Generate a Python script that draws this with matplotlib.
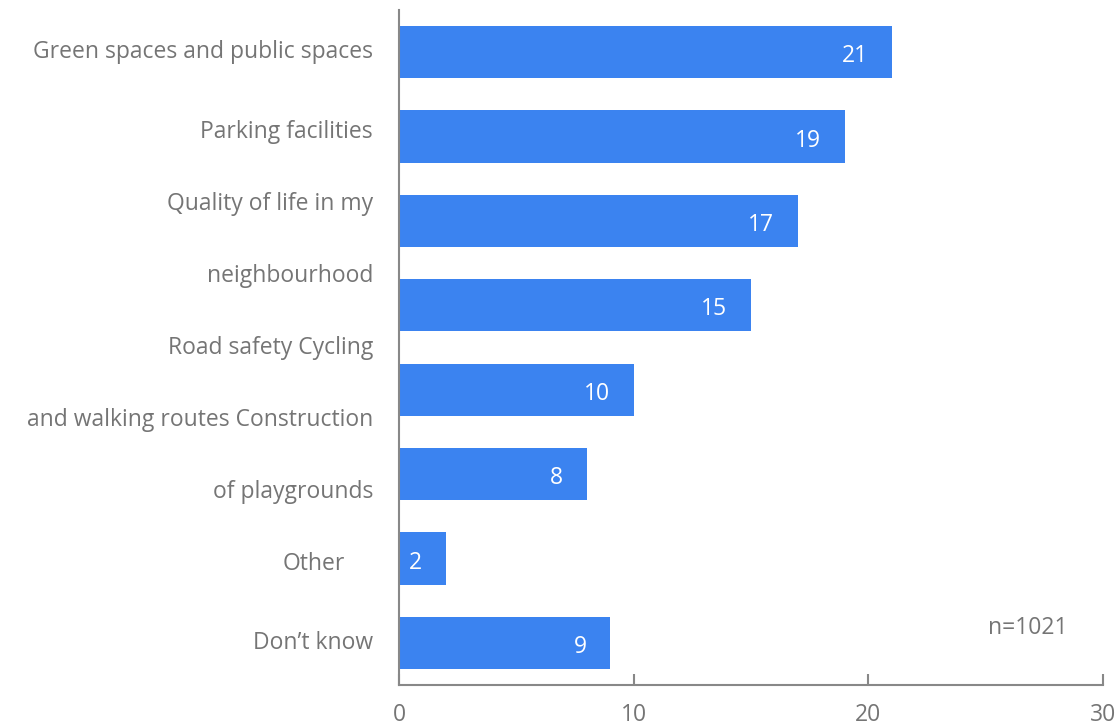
import matplotlib.pyplot as plt
import numpy as np

plt.rcParams['font.family'] = ['Open Sans', 'DejaVu Sans']

# survey results, one bar per answer (top to bottom)
values = [21, 19, 17, 15, 10, 8, 2, 9]
# category text as it is laid out next to the axis, one entry per line
label_lines = ['Green spaces and public spaces', 'Parking facilities',
               'Quality of life in my', 'neighbourhood', 'Road safety Cycling',
               'and walking routes Construction', 'of playgrounds', 'Other',
               'Don\u2019t know']
x_ticks = [0, 10, 20, 30]
note = 'n=1021'

bar_color = '#3b83f0'
grey = '#757575'
fs = 16.5

fig = plt.figure(figsize=(11.16, 7.25), dpi=100)
ax = fig.add_axes([0.3575, 0.0552, 0.631, 0.931])

pos = np.arange(len(values))
ax.barh(pos, values, height=0.62, color=bar_color, zorder=2)

for p, v in zip(pos, values):
    ax.annotate(str(v), (v, p), xytext=(-17, -3), textcoords='offset points',
                ha='right', va='center', color='white', fontsize=fs)

ax.set_xlim(0, 30)
ax.set_ylim(len(values) - 0.5, -0.5)
ax.set_xticks(x_ticks)
ax.set_xticklabels([str(t) for t in x_ticks], fontsize=fs, color=grey)
ax.tick_params(axis='x', direction='in', length=8, width=1.5, color='#888888', pad=13)
ax.set_yticks([])

for side in ['top', 'right']:
    ax.spines[side].set_visible(False)
for side in ['left', 'bottom']:
    ax.spines[side].set_color('#888888')
    ax.spines[side].set_linewidth(1.5)

# the category text wraps over more lines than there are bars
line_y = np.concatenate([[0], np.linspace(0.94, 6.07, 7), [7]])
for txt, y in zip(label_lines, line_y):
    x_off = -54 if txt == 'Other' else -26
    ax.annotate(txt, (0, y), xytext=(x_off, 0), textcoords='offset pixels',
                ha='right', va='center', color=grey, fontsize=fs,
                annotation_clip=False)

ax.text(0.893, 0.085, note, transform=ax.transAxes, ha='center', va='center',
        color=grey, fontsize=fs)

fig.savefig('out.png', dpi=100)
